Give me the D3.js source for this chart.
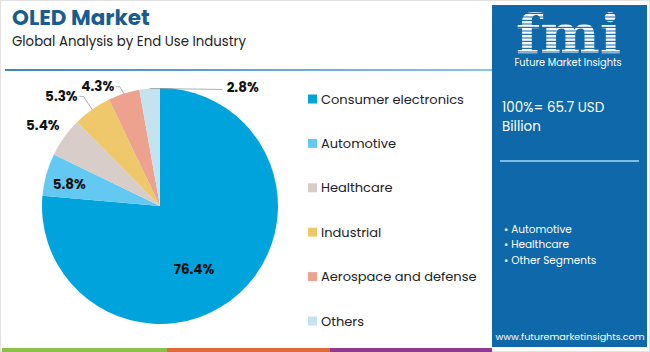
<!DOCTYPE html>
<html><head><meta charset="utf-8">
<script src="https://cdn.jsdelivr.net/npm/d3@7"></script>
<style>body{margin:0;background:#fff}svg{display:block;font-family:Poppins,Lato,"Open Sans",sans-serif}</style>
</head><body>
<svg id="c" width="650" height="352"></svg>
<script>
const categories = ["Consumer electronics","Automotive","Healthcare","Industrial","Aerospace and defense","Others"];
const values = [76.4, 5.8, 5.4, 5.3, 4.3, 2.8];
const colors = ["#00a3dc","#63c9f2","#d8cdc9","#f0c86c","#eca28e","#c4e2f0"];
const bullets = ["Automotive","Healthcare","Other Segments"];

const svg = d3.select("#c");
svg.append("rect").attr("x",0.5).attr("y",0.5).attr("width",649).attr("height",351).attr("fill","#fff").attr("stroke","#e2e2e2");

// title
svg.append("text").attr("x",12).attr("y",25).attr("font-size",21.5).attr("font-weight",700)
  .attr("fill","#1a5c8e").text("OLED Market");
svg.append("text").attr("x",12).attr("y",46).attr("font-size",13.3).attr("fill","#222")
  .text("Global Analysis by End Use Industry");
const defs = svg.append("defs");
const g0 = defs.append("linearGradient").attr("id","hl");
g0.append("stop").attr("offset","0").attr("stop-color","#3f86bf");
g0.append("stop").attr("offset","1").attr("stop-color","#8cc3e6");
svg.append("rect").attr("x",5).attr("y",69).attr("width",487).attr("height",2).attr("fill","url(#hl)");

// pie
const cx = 160, cy = 206, R = 118;
const pie = d3.pie().sort(null).value(d=>d)(values);
const arc = d3.arc().innerRadius(0).outerRadius(R);
const pg = svg.append("g").attr("transform",`translate(${cx},${cy})`);
pg.selectAll("path").data(pie).join("path").attr("d",arc).attr("fill",(d,i)=>colors[i]);

const fmt = v => v.toFixed(1)+"%";
const pt = (a,r)=>[Math.sin(a)*r, -Math.cos(a)*r];
const mid = d => (d.startAngle+d.endAngle)/2;
// label layout: radius factor, angle shift (rad), leader
const layout = [
  {r:0.61, da:0.25},
  {r:0.79, da:-0.04},
  {r:1.205, da:-0.02},
  {r:1.25, da:-0.12, leader:true},
  {r:1.14, da:-0.17, leader:true},
  {side:true}
];
pie.forEach((d,i)=>{
  const L = layout[i];
  let x,y;
  if (L.side){
    const [ax,ay] = pt(mid(d), R);
    x = ax+93; y = ay-1;
    pg.append("polyline").attr("points",`${ax},${ay} ${x-20},${ay+1}`).attr("fill","none").attr("stroke","#999").attr("stroke-width",0.8);
  } else {
    [x,y] = pt(mid(d)+L.da, R*L.r);
    if (L.leader){
      const [ax,ay] = pt(mid(d), R);
      const ex = x+18, ey = y;
      pg.append("polyline").attr("points",`${ex},${ey} ${ex+4},${ey} ${ax},${ay}`).attr("fill","none").attr("stroke","#999").attr("stroke-width",0.8);
    }
  }
  pg.append("text").attr("x",x).attr("y",y).attr("text-anchor","middle").attr("dominant-baseline","central")
    .attr("font-size",13.5).attr("font-weight",700).attr("fill","#111").text(fmt(values[i]));
});

// legend
const ly = d3.scalePoint().domain(categories).range([99,321]);
const lg = svg.append("g");
categories.forEach((c,i)=>{
  lg.append("rect").attr("x",308).attr("y",ly(c)-4.5).attr("width",9).attr("height",9).attr("fill",colors[i]);
  lg.append("text").attr("x",321).attr("y",ly(c)).attr("dominant-baseline","central").attr("font-size",13).attr("fill","#222").text(c);
});

// bottom bars
[["#8dc04b",2,165],["#e0693a",167,163],["#8f3a8f",330,162]].forEach(b=>{
  svg.append("rect").attr("x",b[1]).attr("y",348).attr("width",b[2]).attr("height",4).attr("fill",b[0]);
});

// right panel
svg.append("rect").attr("x",492).attr("y",5).attr("width",155).attr("height",342).attr("fill","#0e68aa");
// logo
const pat = defs.append("pattern").attr("id","stripe").attr("patternUnits","userSpaceOnUse").attr("width",4).attr("height",3.5);
pat.append("rect").attr("width",4).attr("height",2.4).attr("fill","#fff");
svg.append("text").attr("x",516).attr("y",53).attr("font-family","DejaVu Serif")
  .attr("font-weight",700).attr("font-size",54).attr("fill","url(#stripe)")
  .attr("textLength",105).attr("lengthAdjust","spacingAndGlyphs").text("fmi");
svg.append("text").attr("x",568).attr("y",66).attr("text-anchor","middle").attr("font-size",9.8).attr("fill","#fff").text("Future Market Insights");

svg.append("text").attr("x",502).attr("y",112).attr("font-size",13.5).attr("fill","#fff").text("100%= 65.7 USD");
svg.append("text").attr("x",502).attr("y",131).attr("font-size",13.5).attr("fill","#fff").text("Billion");
svg.append("rect").attr("x",500).attr("y",160).attr("width",139).attr("height",2).attr("fill","#7dbde8");
const by = d3.scalePoint().domain(bullets).range([229,260]);
bullets.forEach(b=>{
  svg.append("text").attr("x",504).attr("y",by(b)).attr("dominant-baseline","central").attr("font-size",10.5).attr("fill","#fff").text("• "+b);
});
svg.append("text").attr("x",570).attr("y",340).attr("text-anchor","middle").attr("font-size",9.6).attr("fill","#fff").text("www.futuremarketinsights.com");
</script>
</body></html>
